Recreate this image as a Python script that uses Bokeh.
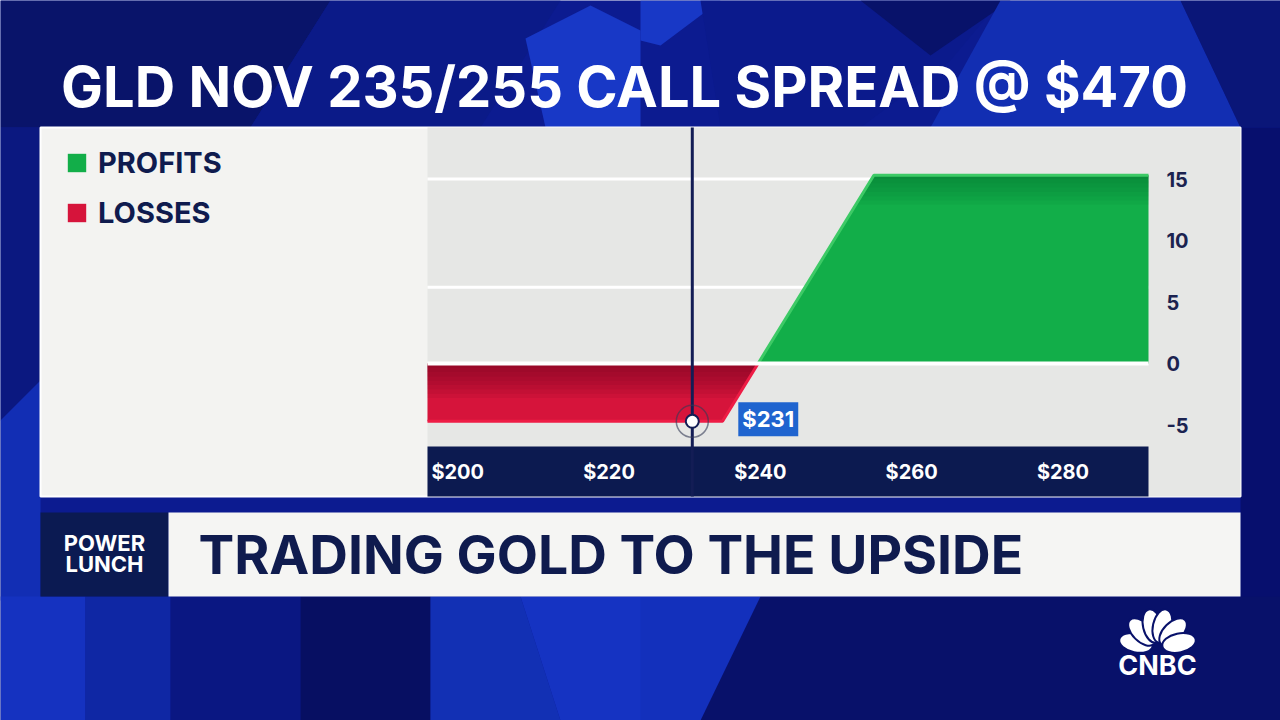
import numpy as np
from bokeh.plotting import figure
from bokeh.models import (Range1d, LinearAxis, FixedTicker, NumeralTickFormatter,
                          Label, Legend, LegendItem)
from bokeh.core.properties import value
from bokeh.embed import file_html
from bokeh.resources import INLINE

# ---- content -------------------------------------------------------------
TITLE = "GLD NOV 235/255 CALL SPREAD @ $470"
SHOW_NAME = ["POWER", "LUNCH"]
HEADLINE = "TRADING GOLD TO THE UPSIDE"
BRAND = "CNBC"

# payoff of the 235/255 call spread bought for $4.70 (price at expiry -> P&L)
price_knots = [196.0, 235.0, 239.7, 255.0, 291.3]
pnl_knots = [-4.7, -4.7, 0.0, 15.3, 15.3]
current_price = 231
current_label = "$231"
price_ticks = [200, 220, 240, 260, 280]
pnl_ticks = [-5, 0, 5, 10, 15]
grid_levels = [15, 6.2]
series_labels = ["PROFITS", "LOSSES"]

# ---- layout --------------------------------------------------------------
W, H = 1280, 720
FONT_NAME = "Inter"
FONT = value(FONT_NAME)
NAVY = "#0f1b4e"
PLOT_L, PLOT_R = 427, 1148          # pixel span of the price domain
ZERO_Y, PX_PER_PNL = 363, 12.3      # pixel row of P&L zero, pixels per dollar of P&L


def Y(top):
    """pixel row measured from the top -> canvas coordinate (y up)"""
    return H - top


ppp = (PLOT_R - PLOT_L) / (price_knots[-1] - price_knots[0])
price_range = Range1d(price_knots[0] - PLOT_L / ppp, price_knots[-1] + (W - PLOT_R) / ppp)
pnl_range = Range1d(-(H - ZERO_Y) / PX_PER_PNL, ZERO_Y / PX_PER_PNL)

p = figure(width=W, height=H, x_range=Range1d(0, W), y_range=Range1d(0, H),
           x_axis_location=None, y_axis_location=None,
           output_backend="svg", toolbar_location=None, min_border=0,
           background_fill_color="#0c1b90", border_fill_color="#0c1b90")
p.outline_line_color = None
p.grid.visible = False
p.extra_x_ranges = {"price": price_range}
p.extra_y_ranges = {"pnl": pnl_range}

# ---- backdrop: faceted blue blocks ----------------------------------------
blocks = [
    ("#09146a", [(0, 0), (330, 0), (250, 127), (0, 127)]),
    ("#0b1a88", [(330, 0), (560, 0), (480, 127), (250, 127)]),
    ("#1838c6", [(525, 38), (590, 5), (640, 30), (640, 127), (545, 127)]),
    ("#1838c6", [(640, 0), (720, 0), (660, 45), (640, 40)]),
    ("#0b1a8c", [(700, 0), (1000, 0), (950, 60), (860, 127), (720, 127)]),
    ("#08126a", [(860, 0), (1010, 0), (930, 55)]),
    ("#122eb2", [(1000, 0), (1180, 0), (1240, 127), (930, 127)]),
    ("#0a1678", [(1180, 0), (1280, 0), (1280, 127), (1240, 127)]),
    ("#070f6e", [(1240, 127), (1280, 127), (1280, 720), (1240, 720)]),
    ("#0b1880", [(0, 127), (40, 127), (40, 380), (0, 420)]),
    ("#122eb4", [(0, 420), (40, 380), (40, 600), (0, 600)]),
    ("#1532c0", [(0, 596), (85, 596), (85, 720), (0, 720)]),
    ("#0f27a4", [(85, 596), (170, 596), (170, 720), (85, 720)]),
    ("#0a1782", [(170, 596), (300, 596), (300, 720), (170, 720)]),
    ("#070f62", [(300, 596), (430, 596), (430, 720), (300, 720)]),
    ("#1230b4", [(430, 596), (520, 596), (560, 720), (430, 720)]),
    ("#1533c2", [(520, 596), (700, 596), (700, 720), (560, 720)]),
    ("#08116a", [(700, 596), (1280, 596), (1280, 720), (700, 720)]),
    ("#1330bc", [(640, 596), (760, 596), (700, 720), (640, 720)]),
]
p.patches(xs=[[pt[0] for pt in poly] for _, poly in blocks],
          ys=[[Y(pt[1]) for pt in poly] for _, poly in blocks],
          fill_color=[c for c, _ in blocks], line_color=None)

# ---- chart panel ------------------------------------------------------------
p.quad(left=40, right=1240, top=Y(127), bottom=Y(496),
       fill_color="#f3f3f1", line_color="#ffffff", line_width=2)
p.quad(left=PLOT_L, right=1240, top=Y(127), bottom=Y(496),
       fill_color="#e6e7e5", line_color=None)
p.quad(left=PLOT_L, right=PLOT_R, top=Y(446), bottom=Y(496),
       fill_color="#0c1a50", line_color=None)

# horizontal guide lines
lo, hi = price_knots[0], price_knots[-1]
p.segment(x0=[lo] * len(grid_levels), x1=[hi] * len(grid_levels),
          y0=grid_levels, y1=grid_levels, line_color="white", line_width=3,
          x_range_name="price", y_range_name="pnl")

# profit area
profit_x = price_knots[2:]
profit_r = p.varea(x=profit_x, y1=[0] * len(profit_x), y2=pnl_knots[2:],
                   fill_color="#12ae49", x_range_name="price", y_range_name="pnl")
top = pnl_knots[-1]
for t in np.linspace(0.3, 2.4, 7):
    xl = float(np.interp(top - t, pnl_knots[2:4], price_knots[2:4]))
    p.patch(x=[price_knots[3], hi, hi, xl], y=[top, top, top - t, top - t],
            fill_color="#05602a", fill_alpha=0.07, line_color=None,
            x_range_name="price", y_range_name="pnl")
p.line(x=profit_x, y=pnl_knots[2:], line_color="#3dca66", line_width=3,
       x_range_name="price", y_range_name="pnl")

# loss area
loss_x = price_knots[:3]
loss_r = p.varea(x=loss_x, y1=pnl_knots[:3], y2=[0] * len(loss_x),
                 fill_color="#d6143b", x_range_name="price", y_range_name="pnl")
for t in np.linspace(0.35, 2.8, 8):
    xr = float(np.interp(-t, pnl_knots[1:3], price_knots[1:3]))
    p.patch(x=[lo, price_knots[2], xr, lo], y=[0, 0, -t, -t],
            fill_color="#5a0618", fill_alpha=0.08, line_color=None,
            x_range_name="price", y_range_name="pnl")
p.line(x=loss_x, y=pnl_knots[:3], line_color="#ee1c45", line_width=3,
       x_range_name="price", y_range_name="pnl")

# zero line
p.line(x=[lo, hi], y=[0, 0], line_color="white", line_width=4,
       x_range_name="price", y_range_name="pnl")

# current price marker
p.segment(x0=[current_price], x1=[current_price], y0=[Y(127)], y1=[Y(496)],
          line_color="#131d55", line_width=3, x_range_name="price")
p.scatter(x=[current_price], y=[pnl_knots[0]], size=32, fill_color=None,
          line_color="#333a55", line_alpha=0.6, line_width=1.5,
          x_range_name="price", y_range_name="pnl")
p.scatter(x=[current_price], y=[pnl_knots[0]], size=13, fill_color="white",
          line_color="#131d55", line_width=2,
          x_range_name="price", y_range_name="pnl")
p.add_layout(Label(x=current_price, y=pnl_knots[0], x_range_name="price", y_range_name="pnl",
                   x_offset=46, y_offset=2, text=current_label, text_baseline="middle",
                   text_color="white", text_font=FONT_NAME, text_font_style="bold",
                   text_font_size="22px", background_fill_color="#1f64cf", padding=4))

# axes drawn inside the panel
xaxis = LinearAxis(x_range_name="price", ticker=FixedTicker(ticks=price_ticks),
                   formatter=NumeralTickFormatter(format="$0"), fixed_location=Y(446),
                   axis_line_color=None, major_tick_line_color=None,
                   minor_tick_line_color=None, major_label_standoff=7,
                   major_label_text_color="white", major_label_text_font=FONT_NAME,
                   major_label_text_font_style="bold", major_label_text_font_size="20px")
p.add_layout(xaxis, "below")
yaxis = LinearAxis(y_range_name="pnl", ticker=FixedTicker(ticks=pnl_ticks),
                   formatter=NumeralTickFormatter(format="0"),
                   fixed_location=1152, axis_line_color=None, major_tick_line_color=None,
                   minor_tick_line_color=None, major_label_standoff=8,
                   major_label_text_color="#1b2350", major_label_text_font=FONT_NAME,
                   major_label_text_font_style="bold", major_label_text_font_size="20px")
p.add_layout(yaxis, "right")

legend = Legend(items=[LegendItem(label=series_labels[0], renderers=[profit_r]),
                       LegendItem(label=series_labels[1], renderers=[loss_r])],
                location=(65, Y(230)), glyph_width=23, glyph_height=23,
                label_text_font=FONT_NAME, label_text_font_style="bold",
                label_text_font_size="29px", label_text_color=NAVY,
                label_standoff=10, spacing=15, padding=0, margin=0,
                border_line_color=None, background_fill_alpha=0)
p.add_layout(legend)

# ---- title ----------------------------------------------------------------
p.text(x=[624], y=[Y(86)], text=[TITLE], text_align="center", text_baseline="middle",
       text_color="white", text_font=FONT, text_font_style="bold", text_font_size="56px")

# ---- lower banner ---------------------------------------------------------
p.quad(left=40, right=168, top=Y(512), bottom=Y(596), fill_color="#0b1a52", line_color=None)
p.quad(left=168, right=1240, top=Y(512), bottom=Y(596), fill_color="#f5f5f3", line_color=None)
p.text(x=[104, 104], y=[Y(542), Y(563)], text=SHOW_NAME, text_align="center",
       text_baseline="middle", text_color="white", text_font=FONT,
       text_font_style="bold", text_font_size="22px")
p.text(x=[198], y=[Y(554)], text=[HEADLINE], text_align="left", text_baseline="middle",
       text_color=NAVY, text_font=FONT, text_font_style="bold", text_font_size="53.5px")

# ---- network bug ----------------------------------------------------------
angles = np.radians([168, 135, 103, 77, 45, 12])
cx, cy = 1157, Y(647)
p.ellipse(x=cx + 22 * np.cos(angles), y=cy + 22 * np.sin(angles), width=34, height=19,
          angle=angles, fill_color="white", line_color="#08116a", line_width=2)
p.text(x=[1157], y=[Y(665)], text=[BRAND], text_align="center", text_baseline="middle",
       text_color="white", text_font=FONT, text_font_style="bold", text_font_size="27px")

open("out.html", "w").write(file_html(p, INLINE))
